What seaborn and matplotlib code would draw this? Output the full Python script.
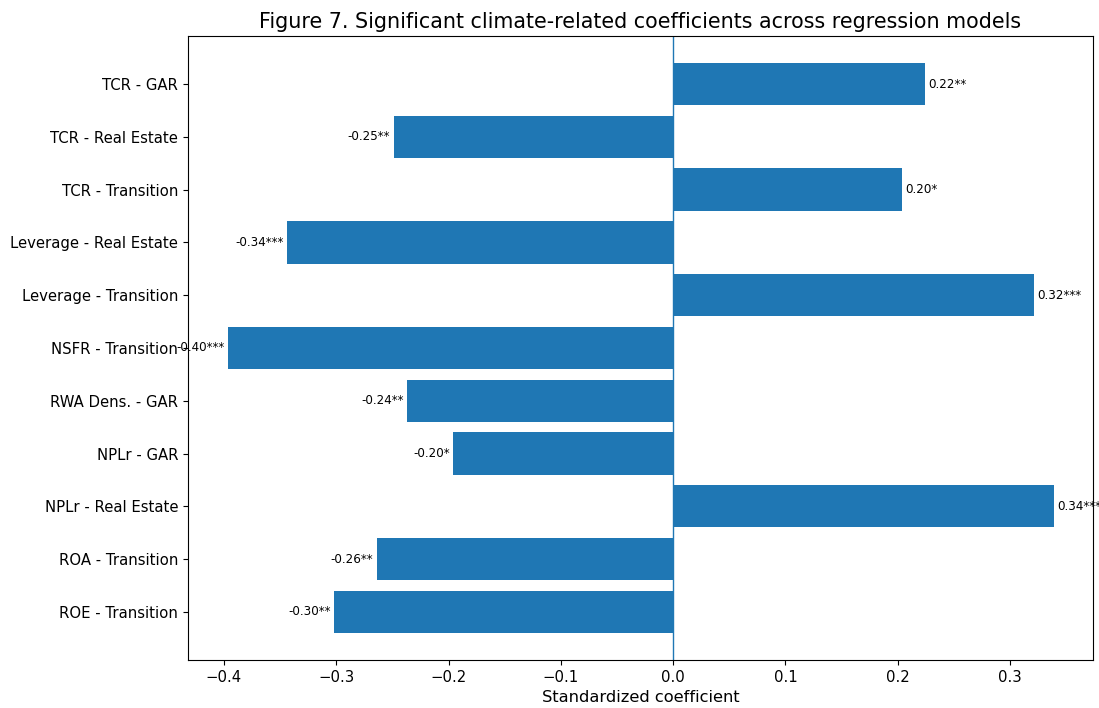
import matplotlib
matplotlib.use("Agg")
import matplotlib.pyplot as plt
import seaborn as sns
import pandas as pd

# Significant coefficients (standardized) and their significance stars
models = [
    "TCR - GAR",
    "TCR - Real Estate",
    "TCR - Transition",
    "Leverage - Real Estate",
    "Leverage - Transition",
    "NSFR - Transition",
    "RWA Dens. - GAR",
    "NPLr - GAR",
    "NPLr - Real Estate",
    "ROA - Transition",
    "ROE - Transition",
]
coefficients = [0.224, -0.249, 0.204, -0.344, 0.321, -0.396, -0.237, -0.196, 0.339, -0.264, -0.302]
stars = ["**", "**", "*", "***", "***", "***", "**", "*", "***", "**", "**"]

df = pd.DataFrame({"model": models, "coef": coefficients})

fig = plt.figure(figsize=(10.99, 7.08), dpi=100)
ax = fig.add_axes([0.1711, 0.0678, 0.8235, 0.8814])

sns.barplot(data=df, x="coef", y="model", orient="h", color="#1f77b4",
            saturation=1, width=0.8, ax=ax)
ax.axvline(0, color="#1f77b4", linewidth=1)

n = len(models)
ax.set_ylim(n - 1 + 0.91, -0.91)
ax.set_xlim(-0.432, 0.374)

for i, (v, s) in enumerate(zip(coefficients, stars)):
    off = 0.003 if v >= 0 else -0.003
    ax.text(v + off, i, f"{v:.2f}{s}", va="center",
            ha="left" if v >= 0 else "right", fontsize=8.6)

ax.set_ylabel("")
ax.set_xlabel("Standardized coefficient", fontsize=11.7)
ax.tick_params(labelsize=10.7)
for sp in ax.spines.values():
    sp.set_visible(True)
ax.set_title("Figure 7. Significant climate-related coefficients across regression models",
             fontsize=14.9)

fig.savefig("out.png", dpi=100)
